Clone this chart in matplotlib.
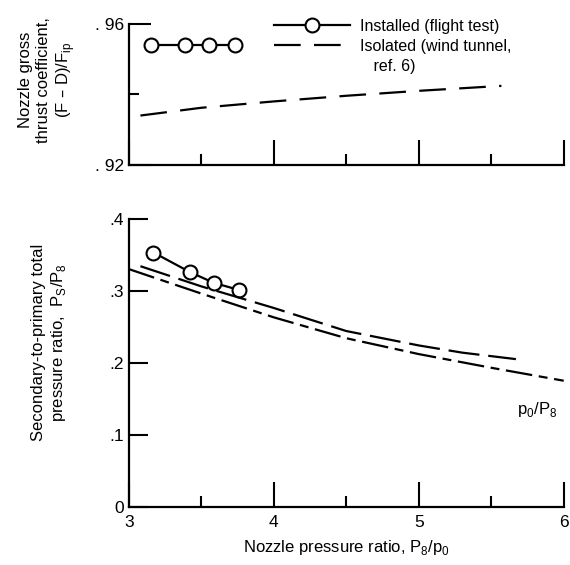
import numpy as np
import matplotlib.pyplot as plt
from matplotlib.lines import Line2D
from matplotlib.ticker import MultipleLocator

plt.rcParams['font.family'] = ['Liberation Sans', 'DejaVu Sans']
plt.rcParams['font.size'] = 11

# top panel: nozzle gross thrust coefficient
x_inst_top = [3.15, 3.39, 3.555, 3.735]
y_inst_top = [0.954, 0.954, 0.954, 0.954]
x_iso_top = [3.08, 3.5, 4.0, 4.5, 5.0, 5.57]
y_iso_top = [0.934, 0.9362, 0.9380, 0.9396, 0.9410, 0.9424]

# bottom panel: secondary-to-primary total pressure ratio
x_inst_bot = [3.17, 3.42, 3.585, 3.76]
y_inst_bot = [0.353, 0.326, 0.311, 0.301]
x_iso_bot = [3.08, 3.5, 4.0, 4.5, 5.0, 5.3, 5.67]
y_iso_bot = [0.334, 0.306, 0.276, 0.244, 0.224, 0.214, 0.205]
x_amb = [3.0, 3.5, 4.0, 4.5, 5.0, 5.5, 6.0]
y_amb = [0.330, 0.296, 0.263, 0.234, 0.212, 0.193, 0.175]

fig = plt.figure(figsize=(5.7, 5.65), dpi=100)
ax1 = fig.add_axes([0.226, 0.708, 0.763, 0.250])
ax2 = fig.add_axes([0.226, 0.103, 0.763, 0.510])

lw = 1.6
ax1.plot(x_inst_top, y_inst_top, '-o', color='black', lw=lw, ms=10,
         mfc='white', mew=1.5, label='Installed (flight test)')
ax1.plot(x_iso_top, y_iso_top, color='black', lw=lw, dashes=(12, 6),
         label='Isolated (wind tunnel,')

ax2.plot(x_inst_bot, y_inst_bot, '-o', color='black', lw=lw, ms=10,
         mfc='white', mew=1.5)
ax2.plot(x_iso_bot, y_iso_bot, color='black', lw=lw, dashes=(14, 4))
ax2.plot(x_amb, y_amb, color='black', lw=lw, dashes=(12, 3, 4, 3))
ax2.text(5.68, 0.135, 'p$_\\mathregular{0}$/P$_\\mathregular{8}$', fontsize=12,
         va='center', ha='left')

for ax in (ax1, ax2):
    ax.set_xlim(3, 6)
    ax.spines['top'].set_visible(False)
    ax.spines['right'].set_visible(False)
    ax.spines['left'].set_linewidth(1.6)
    ax.spines['bottom'].set_linewidth(1.6)
    ax.xaxis.set_major_locator(MultipleLocator(1))
    ax.xaxis.set_minor_locator(MultipleLocator(0.5))
    ax.tick_params(axis='both', which='both', direction='in', width=1.5,
                   labelsize=12.5)
    ax.tick_params(axis='x', which='major', length=18, pad=6)
    ax.tick_params(axis='x', which='minor', length=8)

ax1.set_ylim(0.92, 0.96)
ax1.set_yticks([0.92, 0.96], labels=['. 92', '. 96'])
ax1.set_yticks([0.94], minor=True)
ax1.tick_params(axis='y', which='major', length=16)
ax1.tick_params(axis='y', which='minor', length=7)
ax1.tick_params(axis='x', which='both', labelbottom=False)
ax1.set_ylabel('Nozzle gross\nthrust coefficient,\n(F \u2013 D)/F$_\\mathregular{ip}$',
               fontsize=12, linespacing=1.2)
ax1.yaxis.set_label_coords(-0.12, 0.6)

ax2.set_ylim(0, 0.4)
ax2.set_yticks([0, 0.1, 0.2, 0.3, 0.4], labels=['0', '.1', '.2', '.3', '.4'])
ax2.tick_params(axis='y', which='major', length=14)
ax2.set_ylabel('Secondary-to-primary total\npressure ratio,  P$_\\mathregular{S}$/P$_\\mathregular{8}$',
               fontsize=12, linespacing=1.2)
ax2.yaxis.set_label_coords(-0.14, 0.57)
ax2.set_xticks([3, 4, 5, 6], labels=['3', '4', '5', '6'])
ax2.set_xlabel('Nozzle pressure ratio, P$_\\mathregular{8}$/p$_\\mathregular{0}$',
               fontsize=12, labelpad=6)

handles, labels = ax1.get_legend_handles_labels()
handles.append(Line2D([], [], color='black', linestyle='None'))
labels.append('   ref. 6)')
ax1.legend(handles, labels, loc='upper left', bbox_to_anchor=(0.315, 1.09),
           frameon=False, handlelength=4.8, handletextpad=0.6, borderpad=0,
           labelspacing=0.3, fontsize=11.5)

fig.savefig('out.png', dpi=100)
